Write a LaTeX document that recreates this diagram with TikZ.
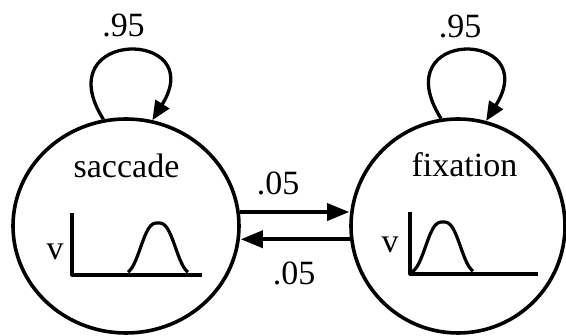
\documentclass[tikz,border=0pt]{standalone}
\usepackage{fontspec}
\setmainfont{Liberation Serif}
\usetikzlibrary{shapes.geometric,arrows.meta}
\begin{document}
\begin{tikzpicture}[x=1pt,y=1pt,
  state/.style={draw,ellipse,line width=3.6pt,inner sep=0pt},
  selfloop/.style={line width=3.3pt,-{Triangle[length=19pt,width=16pt]}},
  trans/.style={line width=3.6pt,-{Triangle[length=22pt,width=17pt]}},
  plotline/.style={line width=3.2pt,line join=round},
  lbl/.style={font=\fontsize{34}{40}\selectfont,anchor=base,inner sep=0pt},
]
\useasboundingbox (0,0) rectangle (566,336);
\fill[white] (0,0) rectangle (566,336);

% the two states
\node[state,minimum width=226pt,minimum height=214pt] (S) at (126,110) {};
\node[state,minimum width=214pt,minimum height=214pt] (F) at (458,110) {};
\node[lbl] (Sname) at (126.5,158) {saccade};
\node[lbl] (Fname) at (464.5,159) {fixation};

% self transitions
\draw[selfloop] (S.102) .. controls +(122:108pt) and +(58:108pt) .. (S.76.5);
\draw[selfloop] (F.99.5) .. controls +(122:108pt) and +(58:108pt) .. (F.75);
\node[lbl] (Sloop) at (123.5,299) {.95};
\node[lbl] (Floop) at (460,298) {.95};

% transitions between the states
\draw[trans] (S.7.5) -- (S.7.5 -| F.west);
\draw[trans] (F.187.5) -- (F.187.5 -| S.east);
\node[lbl] (SF) at (278,141) {.05};
\node[lbl] (FS) at (294,51) {.05};

% velocity profile inside saccade
\node[lbl] (Sv) at (55,76) {v};
\draw[plotline] (72,123) -- (72,61) -- (202,61);
\draw[plotline] plot[domain=-30:30,samples=80,smooth]
  ({158+\x},{61+52*exp(-1*pow(abs(\x)/20.5,2.8))});

% velocity profile inside fixation
\node[lbl] (Fv) at (390,83) {v};
\draw[plotline] (410,124) -- (410,62) -- (538,62);
\draw[plotline] plot[domain=-33:30,samples=80,smooth]
  ({443+\x},{62+52*exp(-1*pow(abs(\x)/20.5,2.8))});
\end{tikzpicture}
\end{document}
